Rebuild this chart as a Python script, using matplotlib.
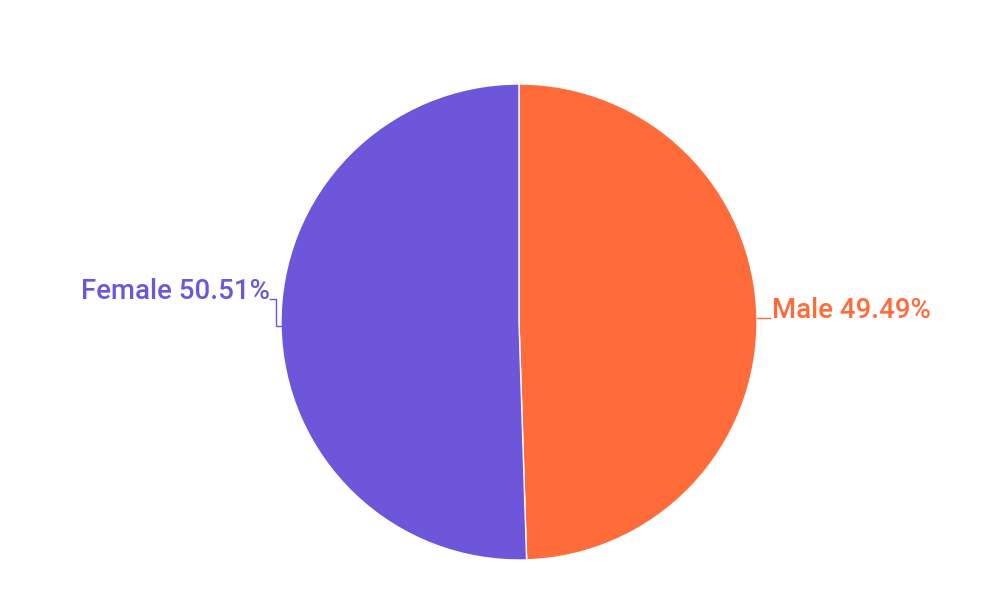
import numpy as np
import matplotlib.pyplot as plt

labels = ["Male", "Female"]
shares = [49.49, 50.51]
colors = ["#FF6B39", "#6E56DB"]

plt.rcParams['font.family'] = ['Roboto', 'DejaVu Sans']

fig = plt.figure(figsize=(10, 6.14), dpi=100)
ax = fig.add_axes([0, 0, 1, 1])

cx, cy, r = 519, 292, 238
wedges, _ = ax.pie(shares, colors=colors, startangle=90, counterclock=False,
                   center=(cx, cy), radius=r, frame=True,
                   wedgeprops=dict(edgecolor='white', linewidth=1))
ax.set_xlim(0, 1000)
ax.set_ylim(0, 614)
ax.set_aspect('equal')
ax.axis('off')

for w, lab, val, col in zip(wedges, labels, shares, colors):
    mid = np.deg2rad((w.theta1 + w.theta2) / 2)
    ex, ey = cx + r * np.cos(mid), cy + r * np.sin(mid)
    if np.cos(mid) > 0:
        xs = [ex, ex + 13]
        ys = [ey, ey]
        tx, ty, ha = ex + 15, ey + 8, 'left'
    else:
        xs = [ex, ex - 5, ex - 5, ex - 11]
        ys = [ey, ey, ey + 27, ey + 27]
        tx, ty, ha = ex - 11, ey + 34, 'right'
    ax.plot(xs, ys, color=col, lw=1)
    ax.text(tx, ty, f"{lab} {val:.2f}%", color=col, fontsize=19.9,
            fontweight='medium', ha=ha, va='center')

fig.savefig("out.png", dpi=100)
